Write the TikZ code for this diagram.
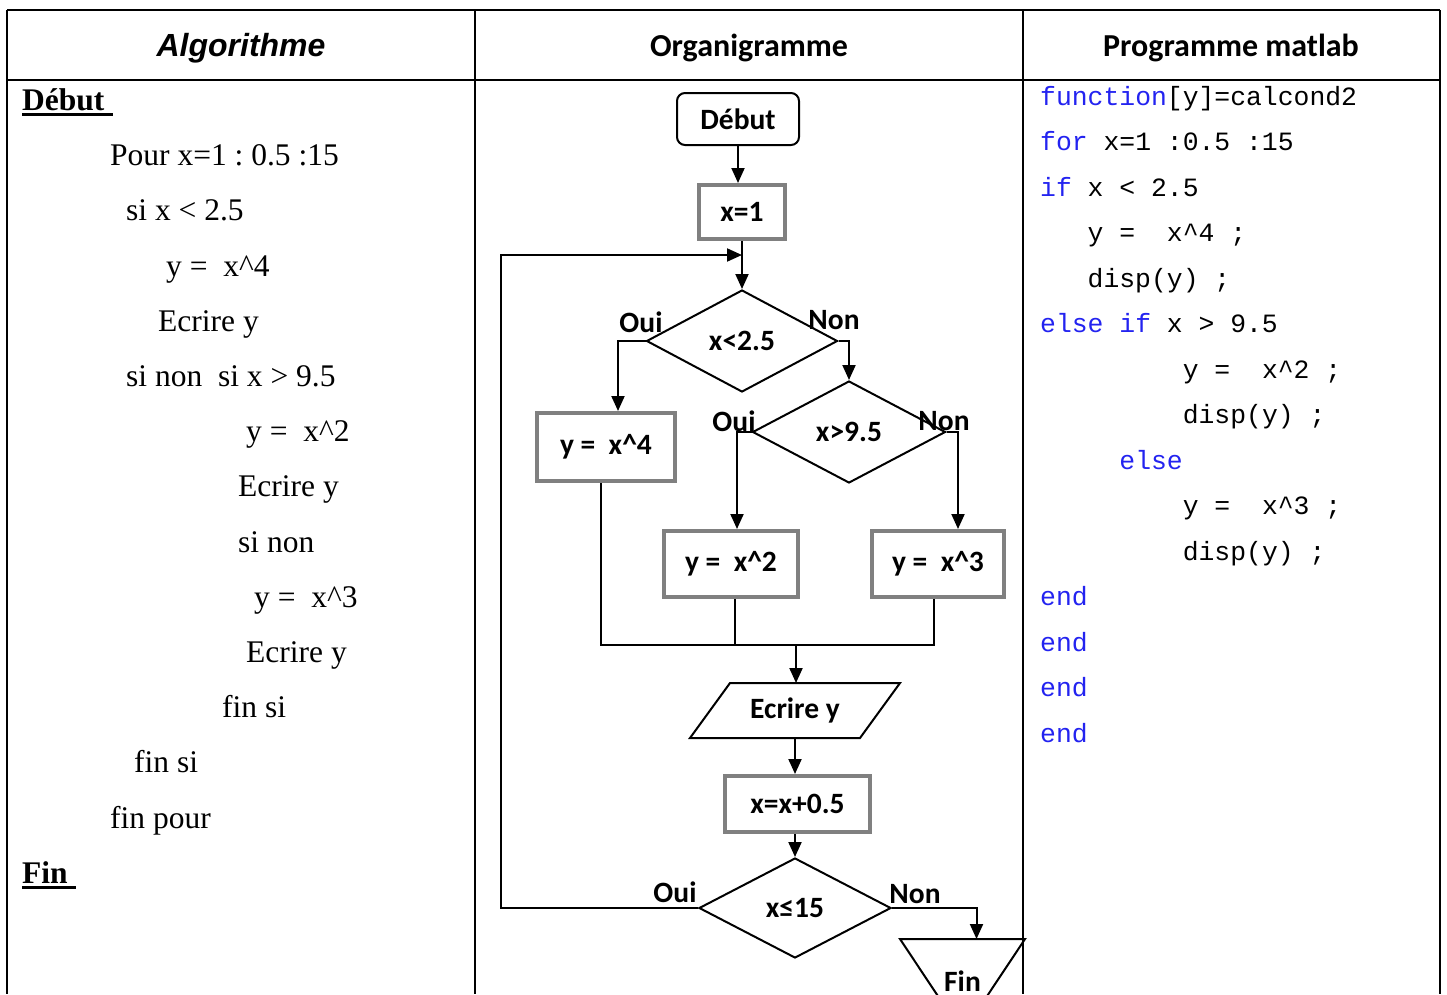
\documentclass[tikz,border=0pt]{standalone}
\usepackage{fontspec}
\setmainfont{Liberation Serif}
\newfontfamily\calib{Carlito}
\newfontfamily\arialf{Liberation Sans}
\newfontfamily\courf{Liberation Mono}
\usetikzlibrary{arrows.meta,shapes.geometric}
\definecolor{boxgray}{RGB}{128,128,128}
\definecolor{kw}{RGB}{35,35,240}
\frenchspacing
\begin{document}
\begin{tikzpicture}[x=1pt,y=-1pt,
  tbl/.style={line width=2.5pt,black},
  alg/.style={anchor=base west,inner sep=0pt,font=\frenchspacing\fontsize{31.5}{36}\selectfont},
  algb/.style={anchor=base west,inner sep=0pt,font=\frenchspacing\bfseries\fontsize{31.5}{36}\selectfont},
  code/.style={anchor=base west,inner sep=0pt,font=\frenchspacing\courf\fontsize{26.4}{30}\selectfont},
  hdr/.style={anchor=base,inner sep=0pt},
  fc/.style={font=\calib\bfseries\fontsize{29.5}{33}\selectfont},
  startbox/.style={draw,rounded corners=8pt,line width=2pt,inner sep=0pt},
  procbox/.style={draw=boxgray,line width=4pt,inner sep=0pt},
  cond/.style={diamond,draw,line width=2pt,inner sep=0pt},
  lbl/.style={inner sep=0pt},
  arr/.style={line width=2pt,-{Triangle[length=15pt,width=13pt]}},
  lnk/.style={line width=2pt}]
\useasboundingbox (0,0) rectangle (1447,994);
\clip (0,0) rectangle (1447,994);

% table
\draw[tbl] (7,10) -- (1440,10);
\draw[tbl] (7,80) -- (1440,80);
\draw[tbl] (7,10) -- (7,994);
\draw[tbl] (475,10) -- (475,994);
\draw[tbl] (1023,10) -- (1023,994);
\draw[tbl] (1440,10) -- (1440,994);

% headers
\node[hdr,font=\arialf\bfseries\itshape\fontsize{32}{36}\selectfont] (h1) at (241,56) {Algorithme};
\node[hdr,font=\calib\bfseries\fontsize{32}{36}\selectfont] (h2) at (749,56) {Organigramme};
\node[hdr,font=\calib\bfseries\fontsize{32}{36}\selectfont] (h3) at (1231,56) {Programme matlab};

% algorithm
\node[algb] (a0) at (22,110) {Début};
\draw[line width=2.5pt] ([yshift=-4.5pt]a0.base west) -- ++(91,0);
\node[alg] (a1) at (110,165) {Pour x=1 : 0.5 :15};
\node[alg] (a2) at (126,220) {si x < 2.5};
\node[alg] (a3) at (166,276) {y =\ \ x\textasciicircum 4};
\node[alg] (a4) at (158,331) {Ecrire y};
\node[alg] (a5) at (126,386) {si non\ \ si x > 9.5};
\node[alg] (a6) at (246,441) {y =\ \ x\textasciicircum 2};
\node[alg] (a7) at (238,496) {Ecrire y};
\node[alg] (a8) at (238,552) {si non};
\node[alg] (a9) at (254,607) {y =\ \ x\textasciicircum 3};
\node[alg] (a10) at (246,662) {Ecrire y};
\node[alg] (a11) at (222,717) {fin si};
\node[alg] (a12) at (134,772) {fin si};
\node[alg] (a13) at (110,828) {fin pour};
\node[algb] (a14) at (22,883) {Fin};
\draw[line width=2.5pt] ([yshift=-4.5pt]a14.base west) -- ++(54,0);

% code
\node[code] (c0) at (1040,105) {\textcolor{kw}{function}[y]=calcond2};
\node[code] (c1) at (1040,150.5) {\textcolor{kw}{for} x=1\ :0.5\ :15};
\node[code] (c2) at (1040,196) {\textcolor{kw}{if} x < 2.5};
\node[code] (c3) at (1087.5,241.5) {y =\ \ x\textasciicircum 4 ;};
\node[code] (c4) at (1087.5,287) {disp(y) ;};
\node[code] (c5) at (1040,332.5) {\textcolor{kw}{else if} x > 9.5};
\node[code] (c6) at (1182.6,378) {y =\ \ x\textasciicircum 2 ;};
\node[code] (c7) at (1182.6,423.5) {disp(y) ;};
\node[code] (c8) at (1119.2,469) {\textcolor{kw}{else}};
\node[code] (c9) at (1182.6,514.5) {y =\ \ x\textasciicircum 3 ;};
\node[code] (c10) at (1182.6,560) {disp(y) ;};
\node[code] (c11) at (1040,605.5) {\textcolor{kw}{end}};
\node[code] (c12) at (1040,651) {\textcolor{kw}{end}};
\node[code] (c13) at (1040,696.5) {\textcolor{kw}{end}};
\node[code] (c14) at (1040,742) {\textcolor{kw}{end}};

% flowchart nodes
\node[fc,startbox,minimum width=122pt,minimum height=52pt] (deb) at (738,119) {Début};
\node[fc,procbox,minimum width=86pt,minimum height=54pt] (x1) at (742,212) {x=1};
\node[fc,cond,minimum width=191pt,minimum height=102pt] (d1) at (742,341) {x<2.5};
\node[fc,procbox,minimum width=138pt,minimum height=68pt] (y4) at (606,447) {y =\ \ x\textasciicircum 4};
\node[fc,cond,minimum width=193pt,minimum height=102pt] (d2) at (849,432) {x>9.5};
\node[fc,procbox,minimum width=134pt,minimum height=66pt] (y2) at (731,564) {y =\ \ x\textasciicircum 2};
\node[fc,procbox,minimum width=132pt,minimum height=66pt] (y3) at (938,564) {y =\ \ x\textasciicircum 3};
\node[fc,inner sep=0pt,outer sep=0pt,minimum width=210pt,minimum height=55pt] (ecr) at (795,710.5) {Ecrire y};
\draw[lnk] ([xshift=40pt]ecr.north west) -- (ecr.north east) -- ([xshift=-40pt]ecr.south east) -- (ecr.south west) -- cycle;
\node[fc,procbox,minimum width=145pt,minimum height=56pt] (xx) at (797.5,804) {x=x+0.5};
\node[fc,cond,minimum width=192pt,minimum height=100pt] (d3) at (795,908) {x≤15};
\node[fc,inner sep=0pt,outer sep=0pt,minimum width=125pt,minimum height=84pt] (fin) at (962.5,981) {Fin};
\draw[lnk] (fin.north west) -- (fin.north east) -- ([yshift=-10pt]fin.south) -- cycle;

% labels
\node[fc,lbl] (o1) at (641,322) {Oui};
\node[fc,lbl] (n1) at (834,320) {Non};
\node[fc,lbl] (o2) at (734,421) {Oui};
\node[fc,lbl] (n2) at (944,421) {Non};
\node[fc,lbl] (o3) at (675,892) {Oui};
\node[fc,lbl] (n3) at (915,894) {Non};

% connectors
\coordinate (lpc) at (501,255);
\coordinate (mer) at (742,255);
\coordinate (mrg) at (796,645);
\draw[arr] (deb.south) -- (deb.south |- x1.north);
\draw[arr] (x1.south) -- (d1.north);
\draw[arr] (d3.west) -| (lpc) -- (mer);
\draw[arr] (d1.west) -| ([xshift=12pt]y4.north);
\draw[arr] (d1.east) -| (d2.north);
\draw[arr] (d2.west) -| ([xshift=6pt]y2.north);
\draw[arr] (d2.east) -| ([xshift=20pt]y3.north);
\draw[lnk] ([xshift=-5pt]y4.south) |- ([xshift=-4pt]y3.south |- mrg) -- ([xshift=-4pt]y3.south);
\draw[lnk] ([xshift=4pt]y2.south) -- ([xshift=4pt]y2.south |- mrg);
\draw[arr] (mrg) -- (mrg |- ecr.north);
\draw[arr] (ecr.south) -- (ecr.south |- xx.north);
\draw[arr] (xx.south -| d3.north) -- (d3.north);
\draw[arr] (d3.east) -| ([xshift=14pt]fin.north);
\end{tikzpicture}
\end{document}
